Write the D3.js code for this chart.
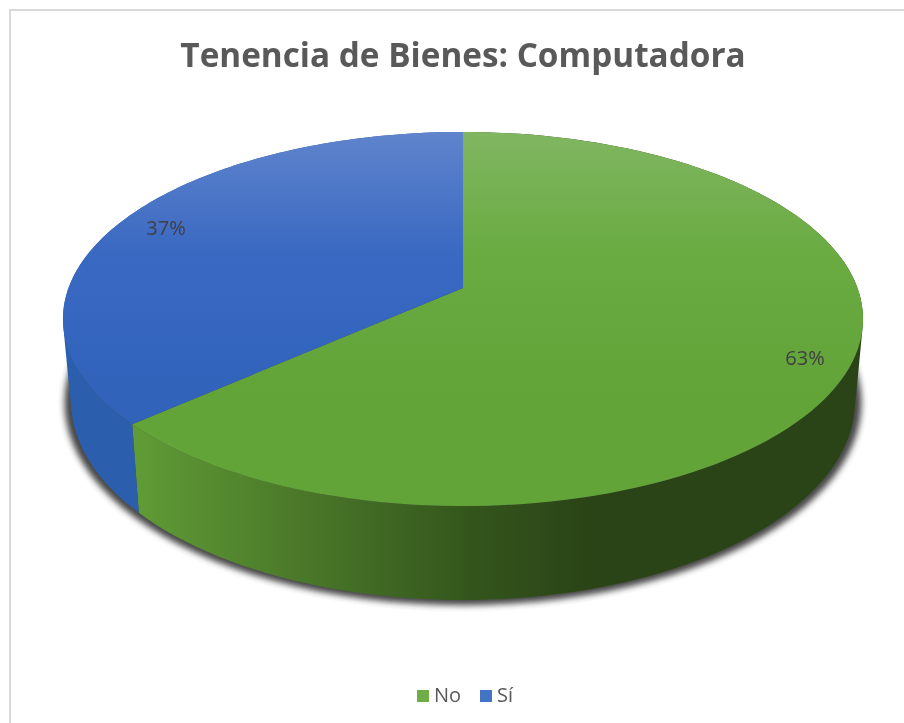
<!DOCTYPE html>
<html><head><meta charset="utf-8">
<script src="https://cdn.jsdelivr.net/npm/d3@7/dist/d3.min.js"></script>
<style>html,body{margin:0;padding:0;background:#fff}svg{display:block;filter:blur(.5px)}</style>
</head><body><svg id="c" width="904" height="723"></svg>
<script>
const titleText = "Tenencia de Bienes: Computadora";
const categories = ["No", "Sí"];
const values = [63.4, 36.6];
const topColors = [["#80b661","#6aab42","#62a438"],["#5f84cc","#3a69c2","#3163bb"]];
const sideColors = [["#609c36","#4a7829","#33551c","#2b4417","#2b4417"],["#2c5eae","#28559e","#28559e","#28559e","#28559e"]];
const legendColors = ["#70ad47","#4472c4"];

const svg = d3.select("#c");
const defs = svg.append("defs");
const K = 0.1658;
const upper = {cx:463, cy:288, a:181.9, b:394.5};
const lower = {cx:463, cy:368, a:193.5, b:386.6};
const shadow = {cx:463, cy:369, a:197, b:393};
const proj = (p, t) => {
  const u = Math.sin(t), v = -Math.cos(t), w = 1 - K * v;
  return [p.cx + p.b * u / w, p.cy + p.a * v / w];
};
const pie = d3.pie().sort(null).value(d => d)(values);
const samples = (a, b) => d3.range(0, 121).map(i => a + (b - a) * i / 120);
const line = d3.line().curve(d3.curveLinear);

// frame
svg.append("path").attr("d","M10,723V10H904").attr("fill","none").attr("stroke","#d9d9d9").attr("stroke-width",2);

// gradients
pie.forEach((s, i) => {
  const g = defs.append("linearGradient").attr("id","t"+i).attr("gradientUnits","userSpaceOnUse")
    .attr("x1",0).attr("x2",0).attr("y1",132).attr("y2",506);
  topColors[i].forEach((c, j) => g.append("stop").attr("offset",[0,.32,.7][j]).attr("stop-color",c));
  const h = defs.append("linearGradient").attr("id","s"+i).attr("gradientUnits","userSpaceOnUse")
    .attr("x1",133).attr("x2",700).attr("y1",0).attr("y2",0);
  sideColors[i].forEach((c, j) => h.append("stop").attr("offset",[0,.3,.6,.8,1][j]).attr("stop-color",c));
});
defs.append("filter").attr("id","sh").attr("x","-10%").attr("y","-10%").attr("width","120%").attr("height","120%")
  .append("feGaussianBlur").attr("stdDeviation",3.4);

// shadow
svg.append("path")
  .attr("d", line(samples(0, 2 * Math.PI).map(t => proj(shadow, t))) + "Z")
  .attr("fill","#333").attr("opacity",.9).attr("filter","url(#sh)");

// side walls: one quad per angular step, all wound the same way so the silhouette stays filled
svg.selectAll("path.side").data(pie).join("path").attr("class","side")
  .attr("d", s => {
    const r = samples(s.startAngle, s.endAngle);
    return d3.pairs(r).map(([t0, t1]) => {
      const q = [proj(upper, t0), proj(upper, t1), proj(lower, t1), proj(lower, t0)];
      if (d3.polygonArea(q) < 0) q.reverse();
      return line(q) + "Z";
    }).join("");
  })
  .attr("fill", (s, i) => `url(#s${i})`);

// top faces
svg.selectAll("path.face").data(pie).join("path").attr("class","face")
  .attr("d", s => line([[upper.cx, upper.cy]].concat(samples(s.startAngle, s.endAngle).map(t => proj(upper, t)))) + "Z")
  .attr("fill", (s, i) => `url(#t${i})`);

// title
svg.append("text").attr("x",463).attr("y",67).attr("text-anchor","middle")
  .attr("font-family","Open Sans").attr("font-weight",700).attr("font-size",33.3).attr("fill","#595959").text(titleText);

// data labels
const fmt = d3.format(".0f");
const labelPos = [[805,365],[166,235]];
svg.selectAll("text.lab").data(values).join("text").attr("class","lab")
  .attr("x",(d,i)=>labelPos[i][0]).attr("y",(d,i)=>labelPos[i][1]).attr("text-anchor","middle")
  .attr("font-family","Open Sans").attr("font-size",20).attr("fill","#404040").text(d => fmt(d)+"%");

// legend
const legX = [417,480];
const leg = svg.selectAll("g.leg").data(categories).join("g").attr("class","leg");
leg.append("rect").attr("x",(d,i)=>legX[i]).attr("y",690).attr("width",12).attr("height",12).attr("fill",(d,i)=>legendColors[i]);
leg.append("text").attr("x",(d,i)=>legX[i]+17).attr("y",702).attr("font-family","Open Sans").attr("font-size",20).attr("fill","#595959").text(d=>d);
</script></body></html>
